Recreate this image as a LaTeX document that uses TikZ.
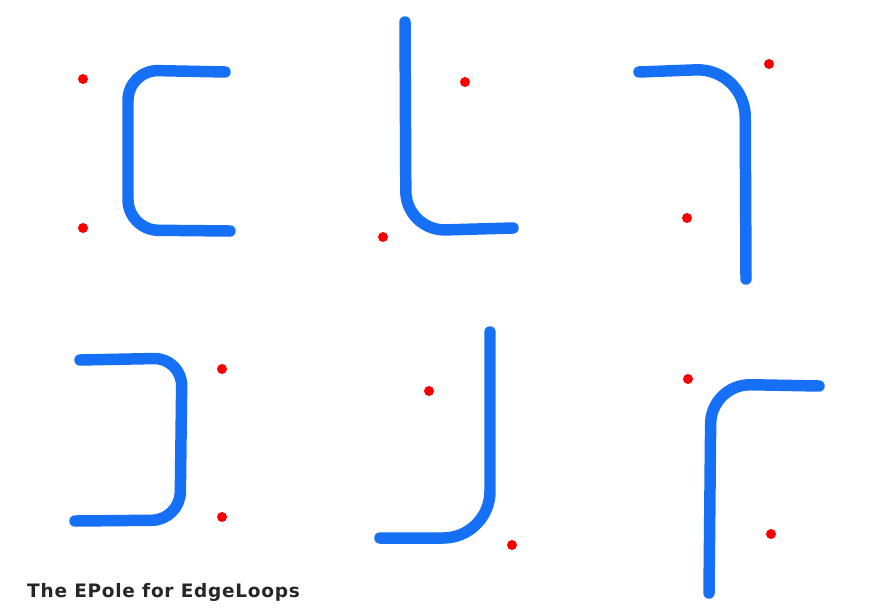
\documentclass[tikz,border=0pt]{standalone}
\usepackage{fontspec}
\setsansfont{DejaVu Sans}[LetterSpace=4]
\definecolor{loopBlue}{RGB}{22,112,245}
\definecolor{poleRed}{RGB}{250,0,0}
\tikzset{
  loop/.style={draw=loopBlue, line width=9.8pt, line cap=round,
    line join=round},
  pole/.style={fill=poleRed},
  caption/.style={font=\sffamily\bfseries\fontsize{15.8}{17}\selectfont,
    text=black!85, anchor=base west, inner sep=0pt}
}
\begin{document}
\begin{tikzpicture}[x=0.03cm, y=-0.03cm]
\path[use as bounding box, fill=white] (0,0) rectangle (874,614);

% top row
\draw[loop, rounded corners=26pt] (225,72) -- (128,70) -- (128,230) -- (230,231);
\draw[loop, rounded corners=34pt] (405,22) -- (406,231) -- (513,228);
\draw[loop, rounded corners=42pt] (639,72) -- (745,68) -- (746,279);

% bottom row
\draw[loop, rounded corners=24pt] (80,360) -- (182,358) -- (180,520) -- (75,521);
\draw[loop, rounded corners=40pt] (490,332) -- (490,538) -- (380,538);
\draw[loop, rounded corners=34pt] (819,386) -- (711,384) -- (709,593);

% poles
\foreach \px/\py in {83/79, 83/228, 465/82, 383/237, 769/64, 687/218,
    222/369, 222/517, 429/391, 512/545, 688/379, 771/534}
  \fill[pole] (\px,\py) circle (5);

\node[caption] (title) at (27,597) {The EPole for EdgeLoops};
\end{tikzpicture}
\end{document}
